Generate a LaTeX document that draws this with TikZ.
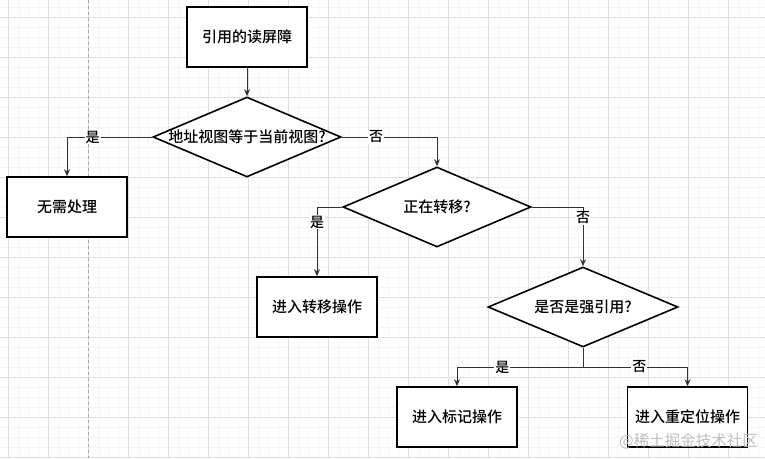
\documentclass[tikz,border=0pt]{standalone}
\usepackage{fontspec}
\IfFontExistsTF{Noto Sans CJK SC Medium}{\newfontfamily\cjk{Noto Sans CJK SC Medium}}{\newfontfamily\cjk[FakeBold=0.5]{Noto Sans CJK SC}}
\newfontfamily\cjkwm{Noto Sans CJK SC}
\usetikzlibrary{shapes.geometric,arrows.meta}
\tikzset{
  boxnode/.style={draw=black, line width=1.6pt, minimum width=120pt, minimum height=60pt, inner sep=0pt, font=\cjk\fontsize{15pt}{17pt}\selectfont, fill=white},
  dianode/.style={draw=black, line width=1.6pt, shape=diamond, minimum width=188pt, minimum height=80pt, inner sep=0pt, fill=white},
  dtext/.style={font=\cjk\fontsize{15pt}{17pt}\selectfont, inner sep=0pt},
  arr/.style={draw=black!80, line width=1pt, -{Stealth[length=7pt,width=6pt]}},
  conn/.style={draw=black!80, line width=1pt},
  lbl/.style={fill=white, inner sep=1pt, font=\cjk\fontsize{14pt}{16pt}\selectfont, text=black},
}
\begin{document}
\begin{tikzpicture}[x=1pt,y=-1pt]
\useasboundingbox (0,0) rectangle (765,458);
\fill[white] (0,0) rectangle (765,458);
% minor grid
\foreach \x in {8,18,...,758} \draw[black!4, line width=0.5pt] (\x,0) -- (\x,458);
\foreach \y in {7,17,...,457} \draw[black!4, line width=0.5pt] (0,\y) -- (765,\y);
% major grid
\foreach \x in {8,48,...,728} \draw[black!13, line width=0.8pt] (\x,0) -- (\x,458);
\foreach \y in {17,57,...,457} \draw[black!13, line width=0.8pt] (0,\y) -- (765,\y);
\draw[black!35, dashed, line width=0.8pt] (88,0) -- (88,458);

% nodes
\node[boxnode] (b1) at (247,37) {引用的读屏障};
\node[dianode] (d1) at (247,137) {};
\node[dtext] (t1) at (d1.center) {地址视图等于当前视图?};
\node[boxnode] (b2) at (67,207) {无需处理};
\node[dianode] (d2) at (437,207) {};
\node[dtext] (t2) at (d2.center) {正在转移?};
\node[boxnode] (b3) at (317,307) {进入转移操作};
\node[dianode, minimum width=190pt] (d3) at (583,307) {};
\node[dtext] (t3) at (d3.center) {是否是强引用?};
\node[boxnode] (b4) at (457,417) {进入标记操作};
\node[boxnode] (b5) at (687.5,417) {进入重定位操作};
\coordinate (j) at (583,367);

% connectors
\draw[arr] (b1.south) -- (d1.north);
\draw[arr] (d1.west) -| node[lbl, pos=0.35] (l1) {是} (b2.north);
\draw[arr] (d1.east) -| node[lbl, pos=0.18] (l2) {否} (d2.north);
\draw[arr] (d2.west) -| node[lbl, pos=0.61] (l3) {是} (b3.north);
\draw[arr] (d2.east) -| node[lbl, pos=0.59] (l4) {否} (d3.north);
\draw[conn] (d3.south) -- (j);
\draw[arr] (j) -| node[lbl, pos=0.32] (l5) {是} (b4.north);
\draw[arr] (j) -| node[lbl, pos=0.27] (l6) {否} (b5.north);

% watermark
\node[font=\cjkwm\fontsize{15.5pt}{17pt}\selectfont, text=black!25, anchor=east, inner sep=0pt] (wm) at (758,441) {@稀土掘金技术社区};
\end{tikzpicture}
\end{document}
